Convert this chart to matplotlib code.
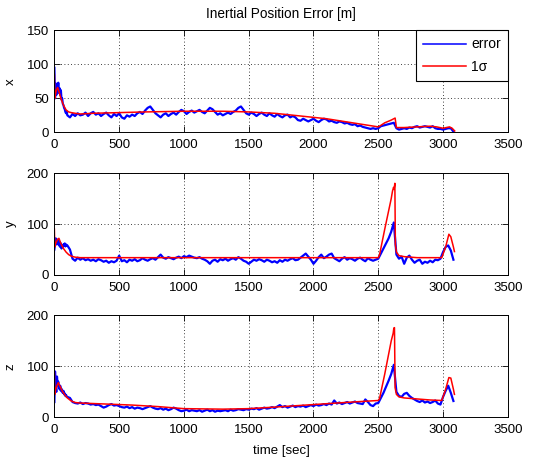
import numpy as np
import matplotlib
matplotlib.use('Agg')
import matplotlib.pyplot as plt

plt.rcParams['font.family'] = ['Liberation Sans', 'DejaVu Sans']

# ---------------- data ----------------
# error sample times: dense start (step 5 s), then every 20 s
t_err = np.concatenate([np.arange(0, 100, 5), np.arange(100, 3081, 20)])

x_err = [95, 50, 72, 55, 68, 60, 73, 58, 65, 55, 62, 48, 50, 42, 40, 36, 34, 30, 28, 30,
         25, 22, 27, 24, 28, 25, 26, 29, 24, 28,
         30, 26, 28, 24, 27, 29, 25, 22, 27, 24,
         28, 22, 20, 25, 23, 26, 24, 28, 30, 27,
         32, 36, 38, 33, 28, 25, 22, 26, 28, 24,
         27, 29, 26, 30, 33, 31, 27, 30, 32, 29,
         31, 33, 30, 28, 32, 36, 34, 30, 26, 28,
         25, 27, 29, 27, 30, 32, 36, 38, 33, 28,
         26, 29, 27, 24, 27, 29, 26, 24, 28, 25,
         23, 27, 24, 22, 25, 26, 22, 24, 22, 18,
         17, 20, 18, 16, 18, 20, 17, 15, 18, 20,
         19, 16, 17, 15, 14, 16, 15, 13, 14, 12,
         11, 12, 9, 10, 8, 7, 6, 5, 6, 5,
         6, 9, 10, 11, 12, 13, 14, 6, 4, 5,
         6, 5, 7, 6, 8, 9, 7, 8, 9, 8,
         7, 9, 6, 5, 5, 4, 5, 6, 6, 1]

y_err = [50, 62, 72, 60, 68, 62, 70, 58, 65, 55, 62, 52, 58, 55, 60, 57, 62, 56, 60, 58,
         58, 50, 32, 28, 34, 30, 33, 29, 31, 28,
         30, 27, 31, 29, 26, 28, 24, 27, 25, 28,
         38, 27, 29, 25, 30, 28, 31, 27, 29, 33,
         30, 28, 31, 33, 30, 35, 40, 34, 32, 35,
         33, 31, 34, 36, 33, 37, 35, 38, 36, 34,
         33, 35, 32, 30, 27, 22, 28, 30, 26, 31,
         29, 32, 28, 31, 33, 30, 35, 32, 28, 26,
         22, 26, 30, 28, 31, 29, 26, 30, 28, 25,
         27, 24, 29, 26, 30, 28, 31, 33, 29, 30,
         34, 38, 42, 36, 30, 22, 28, 35, 40, 33,
         36, 40, 42, 33, 30, 27, 32, 35, 30, 33,
         31, 28, 32, 34, 30, 27, 33, 30, 28, 30,
         32, 42, 52, 62, 72, 85, 103, 40, 32, 36,
         22, 34, 38, 30, 24, 28, 30, 22, 26, 24,
         28, 25, 30, 29, 32, 45, 55, 58, 48, 30]

z_err = [30, 90, 60, 50, 80, 65, 70, 60, 55, 62, 52, 56, 50, 48, 52, 45, 47, 42, 44, 40,
         40, 38, 30, 28, 27, 29, 26, 28, 27, 25,
         26, 24, 25, 22, 19, 21, 24, 26, 23, 24,
         22, 20, 19, 21, 18, 20, 17, 19, 18, 16,
         18, 20, 22, 19, 17, 16, 18, 15, 17, 14,
         16, 19, 17, 14, 12, 13, 15, 12, 14, 13,
         12, 14, 11, 13, 15, 12, 14, 11, 13, 12,
         13, 14, 12, 15, 13, 14, 16, 15, 14, 16,
         15, 17, 16, 18, 15, 17, 19, 17, 18, 20,
         18, 21, 24, 20, 22, 19, 21, 23, 20, 22,
         21, 23, 20, 22, 24, 22, 25, 23, 24, 26,
         24, 27, 25, 33, 27, 29, 26, 28, 30, 27,
         29, 31, 28, 27, 26, 35, 30, 24, 22, 27,
         28, 38, 48, 60, 72, 85, 103, 50, 42, 40,
         46, 48, 42, 38, 35, 32, 30, 33, 29, 31,
         28, 30, 33, 27, 25, 40, 52, 62, 48, 32]

# 1-sigma curves
t_sx = [0, 3, 8, 15, 25, 35, 50, 70, 90, 110, 130, 160, 200, 300, 500, 700, 1000, 1300,
        1500, 1600, 1700, 1800, 1900, 2000, 2100, 2200, 2300, 2400, 2500, 2510, 2550,
        2600, 2630, 2640, 2700, 2800, 2900, 2950, 3000, 3050, 3070, 3090]
sx = [85, 50, 55, 62, 66, 60, 50, 40, 33, 30, 29, 28, 27, 28, 29, 30, 31, 31,
      30, 29, 28, 26, 24, 22, 20, 17, 14, 11, 8, 9, 14,
      18, 21, 7, 7, 8, 9, 8, 6, 8, 6, 2]

t_sy = [0, 3, 8, 15, 25, 35, 50, 70, 90, 110, 130, 160, 200, 500, 1000, 1500, 2000,
        2500, 2510, 2550, 2600, 2610, 2618, 2622, 2628, 2632, 2640, 2660, 2700, 2800,
        2900, 2990, 3020, 3045, 3060, 3080, 3088]
sy = [90, 55, 60, 65, 70, 72, 62, 52, 45, 40, 37, 35, 34, 34, 34, 34, 34,
      34, 40, 90, 150, 165, 172, 168, 180, 60, 45, 38, 36, 34,
      34, 34, 55, 80, 75, 55, 46]

t_sz = [0, 3, 10, 20, 30, 45, 60, 80, 100, 130, 160, 200, 400, 600, 800, 1000, 1300,
        1500, 1700, 2000, 2300, 2500, 2510, 2550, 2600, 2615, 2620, 2625, 2630, 2640,
        2660, 2700, 2800, 2900, 2990, 3020, 3045, 3060, 3080, 3088]
sz = [88, 45, 55, 62, 68, 60, 52, 44, 38, 32, 29, 28, 26, 24, 21, 17, 16,
      17, 20, 25, 30, 33, 37, 85, 150, 165, 175, 176, 58, 45,
      40, 38, 36, 34, 33, 55, 78, 77, 55, 45]

panel_labels = ['x', 'y', 'z']
y_limits = [(0, 150), (0, 200), (0, 200)]
y_ticks = [[0, 50, 100, 150], [0, 100, 200], [0, 100, 200]]
x_ticks = [0, 500, 1000, 1500, 2000, 2500, 3000, 3500]

# ---------------- figure ----------------
fig = plt.figure(figsize=(5.55, 4.61), dpi=100)
fig.patch.set_facecolor('white')

left, width, height = 0.098, 0.817, 0.221
bottoms = [0.713, 0.4035, 0.0948]

errs = [x_err, y_err, z_err]
sigs = [(t_sx, sx), (t_sy, sy), (t_sz, sz)]

fs = 9.5
for i in range(3):
    ax = fig.add_axes([left, bottoms[i], width, height])
    ax.plot(t_err, errs[i], color=(0, 0, 1), lw=1.6, label='error')
    ax.plot(sigs[i][0], sigs[i][1], color=(1, 0, 0), lw=1.1, label='1σ')
    ax.set_xlim(0, 3500)
    ax.set_ylim(*y_limits[i])
    ax.set_xticks(x_ticks)
    ax.set_yticks(y_ticks[i])
    ax.tick_params(direction='in', length=4, width=0.6, top=True, right=True,
                   labelsize=fs)
    ax.tick_params(axis='x', pad=5)
    ax.tick_params(axis='y', pad=4)
    ax.grid(True, linestyle=(0, (1, 3)), color='black', linewidth=0.6)
    for s in ax.spines.values():
        s.set_linewidth(0.7)
    ax.set_ylabel(panel_labels[i], fontsize=fs, labelpad=7)
    if i == 0:
        ax.set_title('Inertial Position Error [m]', fontsize=fs + 0.3, pad=9)
        leg = ax.legend(loc='upper right', borderaxespad=0, fancybox=False,
                        edgecolor='black', framealpha=1, fontsize=fs + 0.5,
                        handlelength=3.1, handletextpad=0.4, labelspacing=0.6,
                        borderpad=0.5)
        leg.get_frame().set_linewidth(0.8)
        for h in leg.get_lines():
            h.set_linewidth(1.1)
    if i == 2:
        ax.set_xlabel('time [sec]', fontsize=fs, labelpad=6)

fig.savefig('out.png', dpi=100, facecolor='white')
